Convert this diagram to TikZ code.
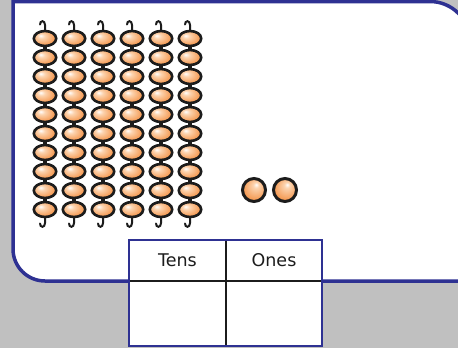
\documentclass[tikz,border=0pt]{standalone}
\usepackage{fontspec}
\setmainfont{DejaVu Sans}
\definecolor{bggray}{RGB}{192,192,192}
\definecolor{frameblue}{RGB}{46,49,146}
\definecolor{ink}{RGB}{28,28,28}
\definecolor{beadorange}{RGB}{245,156,86}
\definecolor{beadlight}{RGB}{252,212,176}
% off-centre radial shadings give the beads their highlight
\pgfdeclareradialshading{beadshade}{\pgfpoint{-10bp}{10bp}}{color(0bp)=(white);color(8bp)=(beadlight);color(26bp)=(beadorange);color(50bp)=(beadorange)}
\pgfdeclareradialshading{oneshade}{\pgfpoint{5bp}{12bp}}{color(0bp)=(white);color(6bp)=(beadlight);color(26bp)=(beadorange);color(50bp)=(beadorange)}
\begin{document}
\begin{tikzpicture}[x=1pt,y=-1pt,
  panelline/.style={draw=frameblue,line width=3.5pt},
  bead/.style={draw=ink,line width=2.6pt,shading=beadshade},
  onebead/.style={draw=ink,line width=3pt,shading=oneshade},
  rodline/.style={draw=ink,line width=3.5pt},
  hookline/.style={draw=ink,line width=2pt,line cap=round},
  gridline/.style={draw=ink,line width=2.2pt},
  label/.style={font=\fontsize{17.5}{20}\selectfont,text=ink,inner sep=0pt}]
\useasboundingbox (0,0) rectangle (458,348);
\clip (0,0) rectangle (458,348);
\fill[bggray] (0,0) rectangle (458,348);
% white board with the blue frame
\path[fill=white,panelline] (13,1.5) [rounded corners=40pt] -- (470,1.5) -- (470,100)
  [sharp corners] -- (470,281) [rounded corners=32pt] -- (13,281) -- (13,200)
  [sharp corners] -- cycle;
% six rods of ten beads
\foreach \i in {0,...,5}{
  \pgfmathsetmacro\cx{45+29*\i}
  \draw[rodline] (\cx,30) -- (\cx,218);
  \draw[hookline] (\cx,31) -- (\cx,25) .. controls (\cx,20) and ({\cx-5},20) .. ({\cx-5},24.5);
  \draw[hookline] (\cx,217) -- (\cx,223) .. controls (\cx,228) and ({\cx-5},228) .. ({\cx-5},223.5);
  \foreach \k in {0,...,9}{
    \path[bead] (\cx,{38.5+19*\k}) ellipse [x radius=11.2,y radius=7.5];
  }
}
% two single beads
\path[onebead] (254,190) circle [radius=11.5];
\path[onebead] (285,190) circle [radius=11.5];
% place-value table
\fill[white] (129,240) rectangle (322,346);
\draw[gridline] (129,281) -- (322,281);
\draw[gridline] (226,240) -- (226,346);
\draw[draw=frameblue,line width=2.8pt] (129,240) rectangle (322,346);
\node[label] (tens) at (177.5,260) {Tens};
\node[label] (ones) at (274,260) {Ones};
\end{tikzpicture}
\end{document}
